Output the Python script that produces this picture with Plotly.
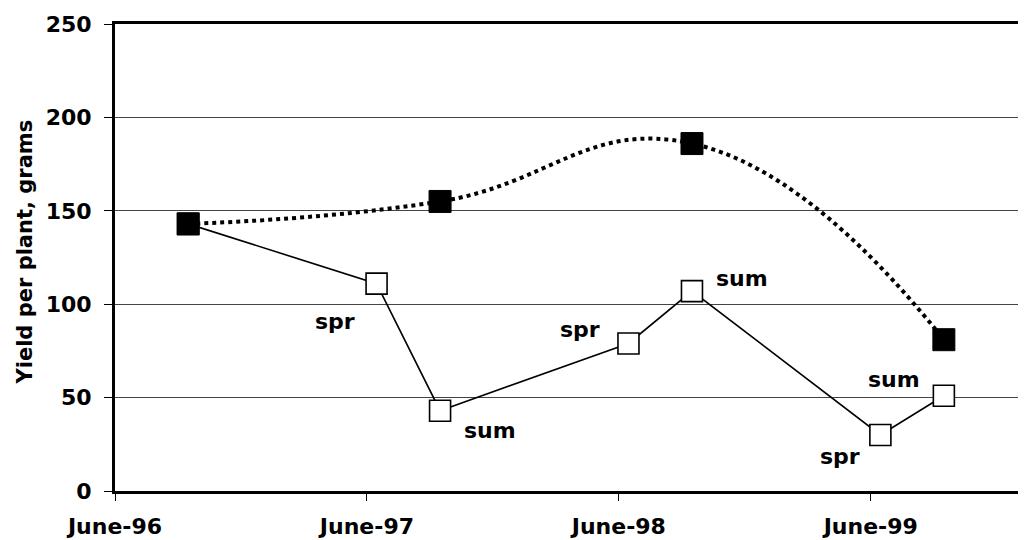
import plotly.graph_objects as go

# Data
dates_a = ["1996-09-15", "1997-09-15", "1998-09-15", "1999-09-15"]
yield_a = [143, 155, 186, 81]

dates_b = ["1996-09-15", "1997-06-15", "1997-09-15", "1998-06-15",
           "1998-09-15", "1999-06-15", "1999-09-15"]
yield_b = [143, 111, 43, 79, 107, 30, 51]

label_points = [1, 2, 3, 4, 5, 6]
label_texts = ["spr", "sum", "spr", "sum", "spr", "sum"]

tick_dates = ["1996-06-01", "1997-06-01", "1998-06-01", "1999-06-01"]
tick_labels = ["June-96", "June-97", "June-98", "June-99"]
y_ticks = [0, 50, 100, 150, 200, 250]
y_title = "Yield per plant, grams"

# label offsets (style, pixels)
label_shift = [(-42, -38), (50, -20), (-48, 14), (50, 13), (-40, -22), (-50, 16)]

FONT = "DejaVu Sans"

fig = go.Figure()

fig.add_trace(go.Scatter(
    x=dates_b, y=yield_b, mode="lines+markers",
    line=dict(color="black", width=1.6),
    marker=dict(symbol="square", size=21, color="white",
                line=dict(color="black", width=1.6)),
    showlegend=False,
))
fig.add_trace(go.Scatter(
    x=dates_a, y=yield_a, mode="lines+markers",
    line=dict(color="black", width=4, dash="dot", shape="spline", smoothing=1.3),
    marker=dict(symbol="square", size=22, color="black",
                line=dict(color="black", width=1)),
    showlegend=False,
))

for idx, txt, (dx, dy) in zip(label_points, label_texts, label_shift):
    fig.add_annotation(
        x=dates_b[idx], y=yield_b[idx], text=txt, showarrow=False,
        xshift=dx, yshift=dy,
        font=dict(family=FONT, size=22, color="black", weight="bold"),
    )

fig.add_annotation(
    xref="paper", yref="paper", x=0, y=0.5, text=y_title, showarrow=False,
    textangle=-90, xanchor="center", yanchor="middle", xshift=-91, yshift=5,
    font=dict(family=FONT, size=21, color="black", weight="bold"),
)

# page body has an 8px margin, so the figure is sized to end at the window edge
fig.update_layout(
    width=1018, height=532,
    margin=dict(l=107, r=0, t=16, b=49, autoexpand=False),
    plot_bgcolor="white", paper_bgcolor="white",
    font=dict(family=FONT, color="black"),
)
fig.update_xaxes(
    type="date", range=["1996-06-01", "2000-01-12"],
    tickvals=tick_dates, ticktext=tick_labels,
    ticks="outside", ticklen=7, tickwidth=1, tickcolor="black",
    tickfont=dict(family=FONT, size=22, color="black", weight="bold"),
    ticklabelstandoff=7,
    showline=True, linecolor="black", linewidth=3, mirror=True,
    showgrid=False, zeroline=False, automargin=False,
)
fig.update_yaxes(
    range=[0, 250], tickvals=y_ticks,
    ticks="outside", ticklen=8, tickwidth=1, tickcolor="black",
    tickfont=dict(family=FONT, size=22, color="black", weight="bold"),
    ticklabelstandoff=8,
    showline=True, linecolor="black", linewidth=3,
    showgrid=True, gridcolor="#444444", gridwidth=1,
    zeroline=False, automargin=False,
)

fig.write_html("out.html")
